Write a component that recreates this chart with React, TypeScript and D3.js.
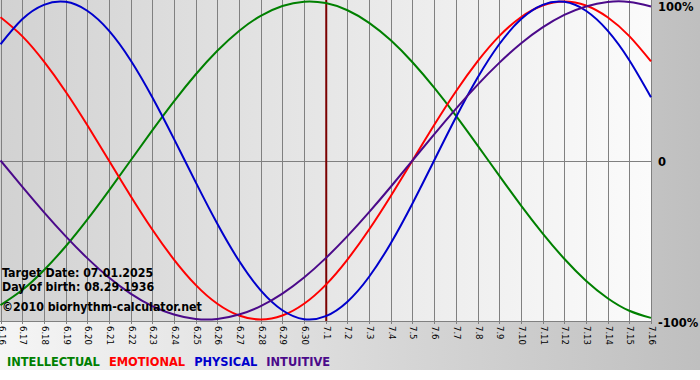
import React from "react";
import * as d3 from "d3";

const dayLabels = [
  "6.16","6.17","6.18","6.19","6.20","6.21","6.22","6.23","6.24","6.25","6.26","6.27","6.28","6.29","6.30",
  "7.1","7.2","7.3","7.4","7.5","7.6","7.7","7.8","7.9","7.10","7.11","7.12","7.13","7.14","7.15","7.16",
];

const intellectual = [
  -0.910,-0.815,-0.690,-0.541,-0.372,-0.189,0,0.189,0.372,0.541,0.690,0.815,0.910,0.972,0.999,0.990,
  0.945,0.866,0.756,0.618,0.458,0.282,0.095,-0.095,-0.282,-0.458,-0.618,-0.756,-0.866,-0.945,-0.990,
];
const emotional = [
  0.901,0.782,0.623,0.434,0.223,0,-0.223,-0.434,-0.623,-0.782,-0.901,-0.975,-1,-0.975,-0.901,-0.782,
  -0.623,-0.434,-0.223,0,0.223,0.434,0.623,0.782,0.901,0.975,1,0.975,0.901,0.782,0.623,
];
const physical = [
  0.731,0.888,0.979,0.998,0.942,0.817,0.631,0.398,0.136,-0.136,-0.398,-0.631,-0.817,-0.942,-0.998,-0.979,
  -0.888,-0.731,-0.520,-0.270,0,0.270,0.520,0.731,0.888,0.979,0.998,0.942,0.817,0.631,0.398,
];
const intuitive = [
  0,-0.165,-0.325,-0.476,-0.614,-0.736,-0.837,-0.916,-0.969,-0.997,-0.997,-0.969,-0.916,-0.837,-0.736,-0.614,
  -0.476,-0.325,-0.165,0,0.165,0.325,0.476,0.614,0.736,0.837,0.916,0.969,0.997,0.997,0.969,
];

const seriesNames = ["INTELLECTUAL", "EMOTIONAL", "PHYSICAL", "INTUITIVE"];
const seriesColors = ["#008000", "#ff0000", "#0000cc", "#4b0a8a"];
const seriesData = [intellectual, emotional, physical, intuitive];

const targetDayIndex = 15;
const yTickValues = [1, 0, -1];
const yTickLabels = ["100%", "0", "-100%"];
const infoLines = ["Target Date: 07.01.2025", "Day of birth: 08.29.1936", "\u00A92010 biorhythm-calculator.net"];

export default function App() {
  const W = 700;
  const H = 380;
  const plotLeft = 0.5;
  const plotRight = 651;
  const plotTop = 0;
  const axisY = 321;
  const x = d3.scaleLinear().domain([0, dayLabels.length - 1]).range([plotLeft, plotRight]);
  const y = d3.scaleLinear().domain([-1, 1]).range([319.5, 1.5]);
  const line = d3
    .line<number>()
    .x((_, i) => x(i))
    .y((d) => y(d))
    .curve(d3.curveNatural);
  const font = "'DejaVu Sans', Verdana, sans-serif";
  const cond = "'DejaVu Sans Condensed', 'DejaVu Sans', sans-serif";
  const grid = "#808080";

  return (
    <svg
      width={W}
      height={H}
      style={{ position: "fixed", left: 0, top: 0, display: "block" }}
      xmlns="http://www.w3.org/2000/svg"
    >
      <defs>
        <linearGradient id="bgGrad" x1="0" y1="0" x2="1" y2="0">
          <stop offset="0" stopColor="#f5f5f5" />
          <stop offset="1" stopColor="#bfbfbf" />
        </linearGradient>
        <linearGradient id="plotGrad" x1="0" y1="0" x2="1" y2="0">
          <stop offset="0" stopColor="#d2d2d2" />
          <stop offset="1" stopColor="#fbfbfb" />
        </linearGradient>
        <clipPath id="plotClip">
          <rect x={0} y={0} width={plotRight + 1} height={axisY} />
        </clipPath>
      </defs>
      <rect x={0} y={0} width={W} height={H} fill="#ffffff" />
      <rect x={0} y={0} width={W} height={370} fill="url(#bgGrad)" />
      <rect x={0} y={plotTop} width={plotRight} height={axisY - plotTop} fill="url(#plotGrad)" />

      {dayLabels.map((lab, i) => (
        <line
          key={"g" + lab}
          x1={Math.round(x(i)) + 0.5}
          x2={Math.round(x(i)) + 0.5}
          y1={plotTop}
          y2={axisY + 3}
          stroke={grid}
          strokeWidth={1}
        />
      ))}
      <line x1={0} x2={plotRight + 1} y1={Math.round(y(0)) + 0.5} y2={Math.round(y(0)) + 0.5} stroke={grid} />
      <line x1={0} x2={plotRight + 1} y1={axisY + 0.5} y2={axisY + 0.5} stroke={grid} />
      <line
        x1={x(targetDayIndex) + 0.5}
        x2={x(targetDayIndex) + 0.5}
        y1={plotTop}
        y2={axisY}
        stroke="#7a0000"
        strokeWidth={2}
      />

      <g clipPath="url(#plotClip)">
        {seriesData.map((s, k) => (
          <path key={seriesNames[k]} d={line(s) || ""} fill="none" stroke={seriesColors[k]} strokeWidth={2} />
        ))}
      </g>

      {dayLabels.map((lab, i) => (
        <text
          key={"t" + lab}
          transform={`translate(${Math.round(x(i)) + 0.5},${axisY + 5}) rotate(90)`}
          fontFamily={font}
          fontSize={8.5}
          dominantBaseline="central"
          textAnchor="start"
          fill="#000"
        >
          {lab}
        </text>
      ))}

      {yTickValues.map((v, k) => (
        <text
          key={"y" + k}
          x={658}
          y={k === 2 ? 327 : y(v) + 4.5 + (k === 0 ? 5 : 1)}
          fontFamily={font}
          fontSize={11.5}
          fontWeight="bold"
          fill="#000"
        >
          {yTickLabels[k]}
        </text>
      ))}

      {infoLines.map((t, k) => (
        <text
          key={"info" + k}
          x={2}
          y={[277, 291, 311][k]}
          fontFamily={cond}
          fontSize={12.3}
          fontWeight="bold"
          fill="#000"
        >
          {t}
        </text>
      ))}

      <text x={7} y={366} fontFamily={cond} fontSize={12.7} fontWeight="bold">
        {seriesNames.map((n, k) => (
          <tspan key={n} fill={seriesColors[k]} dx={k === 0 ? 0 : 9}>
            {n}
          </tspan>
        ))}
      </text>
    </svg>
  );
}
